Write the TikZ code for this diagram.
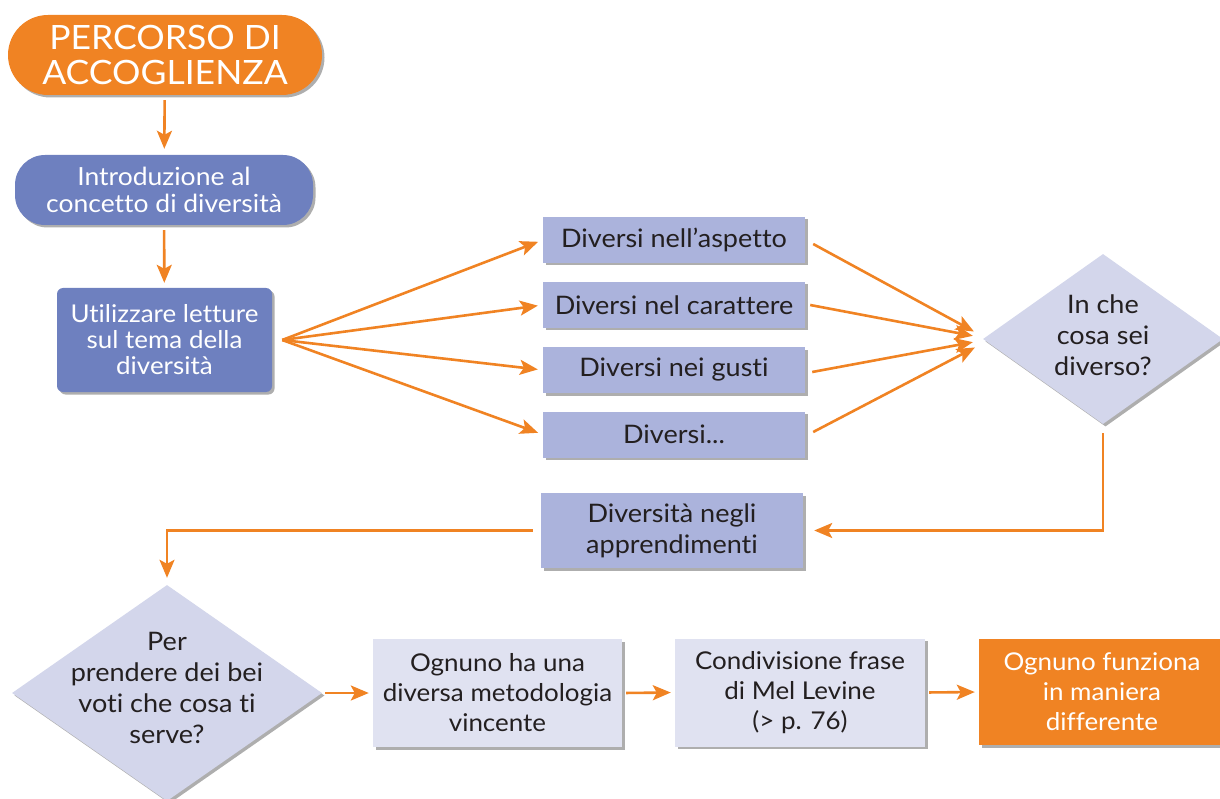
\documentclass[tikz,border=0pt]{standalone}
\usepackage{fontspec}
\setmainfont{Lato}[FakeStretch=1.06,Ligatures=CommonOff]
\usetikzlibrary{shapes.geometric,shadows,arrows.meta}

\definecolor{accorange}{HTML}{F08323}
\definecolor{stepblue}{HTML}{6E80BF}
\definecolor{lavender}{HTML}{ABB3DC}
\definecolor{paleviolet}{HTML}{D3D6EB}
\definecolor{palebox}{HTML}{E0E2F1}
\definecolor{inkdark}{HTML}{231F20}

\tikzset{
  softshadow/.style={drop shadow={opacity=0.45,shadow xshift=2.5pt,shadow yshift=-2.5pt,fill=black!70}},
  flowarrow/.style={draw=accorange,line width=2.6pt,
    -{Stealth[length=18pt,width=15pt,inset=4pt]}},
  titlepill/.style={rectangle,rounded corners=40pt,fill=accorange,text=white,
    minimum width=314pt,minimum height=80pt,inner sep=0pt,align=center,softshadow,
    font=\fontsize{33.5}{35}\selectfont},
  bluepill/.style={rectangle,rounded corners=30pt,fill=stepblue,text=white,
    minimum width=298pt,minimum height=70pt,inner sep=0pt,align=center,softshadow,
    font=\fontsize{25}{27}\selectfont},
  bluebox/.style={rectangle,rounded corners=6pt,fill=stepblue,text=white,
    minimum width=215pt,minimum height=104pt,inner sep=0pt,align=center,softshadow,
    font=\fontsize{24.5}{26}\selectfont},
  lavbox/.style={rectangle,fill=lavender,text=inkdark,
    minimum width=262pt,minimum height=46pt,inner sep=0pt,align=center,softshadow,
    font=\fontsize{25.5}{31}\selectfont},
  qdiamond/.style={diamond,fill=paleviolet,inner sep=0pt,softshadow},
  qtext/.style={text=inkdark,align=center,font=\fontsize{25.5}{31}\selectfont},
  palestep/.style={rectangle,fill=palebox,text=inkdark,
    minimum width=249pt,minimum height=108pt,inner sep=0pt,align=center,softshadow,
    font=\fontsize{24.5}{30}\selectfont},
  orangestep/.style={rectangle,fill=accorange,text=white,
    minimum width=246pt,minimum height=106pt,inner sep=0pt,align=center,softshadow,
    font=\fontsize{24.5}{30}\selectfont},
}

\begin{document}
\begin{tikzpicture}[x=1pt,y=-1pt]
\useasboundingbox (0,0) rectangle (1220,799);
\clip (0,0) rectangle (1220,799);

% left column
\node[titlepill] (start) at (165,55) {PERCORSO DI\\ACCOGLIENZA};
\node[bluepill] (intro) at (164,190) {Introduzione al\\concetto di diversità};
\node[bluebox] (read) at (164.5,340) {Utilizzare letture\\sul tema della\\diversità};

% kinds of difference
\node[lavbox] (look)  at (674,240) {Diversi nell’aspetto};
\node[lavbox] (char)  at (674,305) {Diversi nel carattere};
\node[lavbox] (taste) at (674,370) {Diversi nei gusti};
\node[lavbox] (etc)   at (674,434.5) {Diversi...};

% first question
\node[qdiamond,minimum width=240pt,minimum height=170pt] (q1) at (1103,339) {};
\node[qtext] at ([yshift=4pt]q1.center) {In che\\cosa sei\\diverso?};

\node[lavbox,minimum height=75pt] (learn) at (672,530.5) {Diversità negli\\apprendimenti};

% second question
\node[qdiamond,minimum width=310pt,minimum height=216pt] (q2) at (167,693) {};
\node[qtext] at ([yshift=5pt]q2.center) {Per\\prendere dei bei\\voti che cosa ti\\serve?};

% bottom row
\node[palestep] (method) at (497.5,693) {Ognuno ha una\\diversa metodologia\\vincente};
\node[palestep,minimum width=250pt] (levine) at (800,692.5) {Condivisione frase\\di Mel Levine\\(> p. 76)};
\node[orangestep] (works) at (1102,692) {Ognuno funziona\\in maniera\\differente};

% connectors down the left column
\draw[flowarrow,shorten <=5pt,shorten >=6pt] (start) -- (intro);
\draw[flowarrow,shorten <=5pt,shorten >=5pt] (intro) -- (read);

% fan out to the four boxes
\coordinate (fan) at ([xshift=10pt]read.east);
\foreach \b in {look,char,taste,etc}
  \draw[flowarrow,shorten >=5pt] (fan) -- (\b.west);

% converge on the first question
\draw[flowarrow,shorten >=1pt] ([xshift=8pt,yshift=-4pt]look.east)  -- ([shift={(-8,-7)}]q1.west);
\draw[flowarrow,shorten >=1pt] ([xshift=5pt]char.east)               -- ([shift={(-9,-3)}]q1.west);
\draw[flowarrow,shorten >=1pt] ([xshift=7pt,yshift=-2pt]taste.east) -- ([shift={(-9,3)}]q1.west);
\draw[flowarrow,shorten >=1pt] ([xshift=8pt,yshift=2.5pt]etc.east)  -- ([shift={(-7,8)}]q1.west);

% back round to the learning box
\draw[flowarrow,shorten <=9pt,shorten >=11pt] (q1.south) |- (learn.east);
\draw[flowarrow,shorten <=8pt,shorten >=7pt] (learn.west) -| (q2.north);

% along the bottom row
\draw[flowarrow,shorten <=3pt,shorten >=4pt] (q2.east) -- (method.west);
\draw[flowarrow,shorten <=4pt,shorten >=4pt] (method.east) -- (levine.west);
\draw[flowarrow,shorten <=4pt,shorten >=4pt] (levine.east) -- (works.west);
\end{tikzpicture}
\end{document}
